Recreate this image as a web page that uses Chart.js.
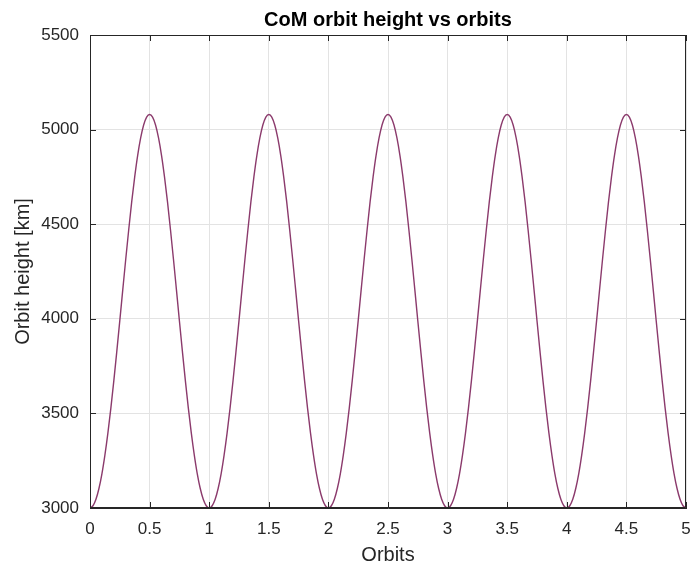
<!DOCTYPE html>
<html>
<head>
<meta charset="utf-8">
<script src="https://cdn.jsdelivr.net/npm/chart.js@4"></script>
<style>
  html, body { margin: 0; padding: 0; background: #fff; }
  canvas { display: block; }
</style>
</head>
<body>
<canvas id="chart" width="694" height="563"></canvas>
<script>
// -------------- CoM orbit height --------------

// samples every 0.025 orbit, one row per half orbit
const orbitStep = 0.025;
const heightKm = [
  3000, 3012, 3046, 3103, 3181, 3280, 3396, 3528, 3673, 3829, 3990, 4154, 4316, 4472, 4619, 4750, 4864, 4956, 5024, 5066,
  5080, 5066, 5024, 4956, 4864, 4750, 4619, 4472, 4316, 4154, 3990, 3829, 3673, 3528, 3396, 3280, 3181, 3103, 3046, 3012,
  3000, 3012, 3046, 3103, 3181, 3280, 3396, 3528, 3673, 3829, 3990, 4154, 4316, 4472, 4619, 4750, 4864, 4956, 5024, 5066,
  5080, 5066, 5024, 4956, 4864, 4750, 4619, 4472, 4316, 4154, 3990, 3829, 3673, 3528, 3396, 3280, 3181, 3103, 3046, 3012,
  3000, 3012, 3046, 3103, 3181, 3280, 3396, 3528, 3673, 3829, 3990, 4154, 4316, 4472, 4619, 4750, 4864, 4956, 5024, 5066,
  5080, 5066, 5024, 4956, 4864, 4750, 4619, 4472, 4316, 4154, 3990, 3829, 3673, 3528, 3396, 3280, 3181, 3103, 3046, 3012,
  3000, 3012, 3046, 3103, 3181, 3280, 3396, 3528, 3673, 3829, 3990, 4154, 4316, 4472, 4619, 4750, 4864, 4956, 5024, 5066,
  5080, 5066, 5024, 4956, 4864, 4750, 4619, 4472, 4316, 4154, 3990, 3829, 3673, 3528, 3396, 3280, 3181, 3103, 3046, 3012,
  3000, 3012, 3046, 3103, 3181, 3280, 3396, 3528, 3673, 3829, 3990, 4154, 4316, 4472, 4619, 4750, 4864, 4956, 5024, 5066,
  5080, 5066, 5024, 4956, 4864, 4750, 4619, 4472, 4316, 4154, 3990, 3829, 3673, 3528, 3396, 3280, 3181, 3103, 3046, 3012,
  3000
];
const xRange = [0, 5];
const yRange = [3000, 5500];
const xTickStep = 0.5;
const yTickStep = 500;
const chartTitle = 'CoM orbit height vs orbits';

const axisColor = '#262626';
const gridColor = '#e3e3e3';
const fontFamily = '"Liberation Sans", Arial, Helvetica, sans-serif';

// matlab style box: top/right lines, inward tick marks, title over the plot area
const boxPlugin = {
  id: 'matlabBox',
  afterDatasetsDraw(chart) {
    const { ctx, chartArea: a, scales } = chart;
    const len = 6;
    ctx.save();
    ctx.strokeStyle = axisColor;
    ctx.lineWidth = 1;
    ctx.beginPath();
    ctx.rect(Math.round(a.left) + 0.5, Math.round(a.top) + 0.5,
             Math.round(a.right - a.left) - 1, Math.round(a.bottom - a.top) - 1);
    scales.x.ticks.forEach(t => {
      const px = Math.round(scales.x.getPixelForValue(t.value)) + 0.5;
      ctx.moveTo(px, a.bottom); ctx.lineTo(px, a.bottom - len);
      ctx.moveTo(px, a.top); ctx.lineTo(px, a.top + len);
    });
    scales.y.ticks.forEach(t => {
      const py = Math.round(scales.y.getPixelForValue(t.value)) + 0.5;
      ctx.moveTo(a.left, py); ctx.lineTo(a.left + len, py);
      ctx.moveTo(a.right, py); ctx.lineTo(a.right - len, py);
    });
    ctx.stroke();

    ctx.fillStyle = '#000';
    ctx.font = 'bold 20px ' + fontFamily;
    ctx.textAlign = 'center';
    ctx.textBaseline = 'alphabetic';
    ctx.fillText(chartTitle, (a.left + a.right) / 2, a.top - 9);
    ctx.restore();
  }
};

var options = {
  type: 'line',
  data: {
    datasets: [{
      label: 'Orbit height',
      data: heightKm.map((h, i) => ({ x: i * orbitStep, y: h })),
      borderColor: '#8b3a6c',
      borderWidth: 1.4,
      pointRadius: 0,
      cubicInterpolationMode: 'monotone',
      fill: false
    }]
  },
  options: {
    responsive: false,
    animation: false,
    events: [],
    layout: { padding: { left: 0, right: 8, top: 35, bottom: 0 } },
    plugins: {
      legend: { display: false },
      tooltip: { enabled: false },
      title: { display: false }
    },
    scales: {
      x: {
        type: 'linear',
        min: xRange[0],
        max: xRange[1],
        ticks: {
          stepSize: xTickStep,
          color: axisColor,
          padding: 11,
          maxRotation: 0,
          font: { family: fontFamily, size: 17 },
          callback: v => String(v)
        },
        grid: { color: gridColor, drawTicks: false },
        border: { color: axisColor },
        title: {
          display: true,
          text: 'Orbits',
          color: axisColor,
          font: { family: fontFamily, size: 20, lineHeight: 1 },
          padding: { top: 0, bottom: -2 }
        },
        afterFit(scale) {
          scale.height = 55;
          scale.paddingLeft = 0;
          scale.paddingRight = 0;
        }
      },
      y: {
        type: 'linear',
        min: yRange[0],
        max: yRange[1],
        ticks: {
          stepSize: yTickStep,
          color: axisColor,
          padding: 11,
          font: { family: fontFamily, size: 17 },
          callback: v => String(v)
        },
        grid: { color: gridColor, drawTicks: false },
        border: { color: axisColor },
        title: {
          display: true,
          text: 'Orbit height [km]',
          color: axisColor,
          font: { family: fontFamily, size: 20, lineHeight: 1.2 },
          padding: { top: 11, bottom: 0 }
        },
        afterFit(scale) {
          scale.width = 90;
          scale.paddingTop = 0;
          scale.paddingBottom = 0;
        }
      }
    }
  },
  plugins: [boxPlugin]
};

var ctx = document.getElementById('chart').getContext('2d');
new Chart(ctx, options);
</script>
</body>
</html>
